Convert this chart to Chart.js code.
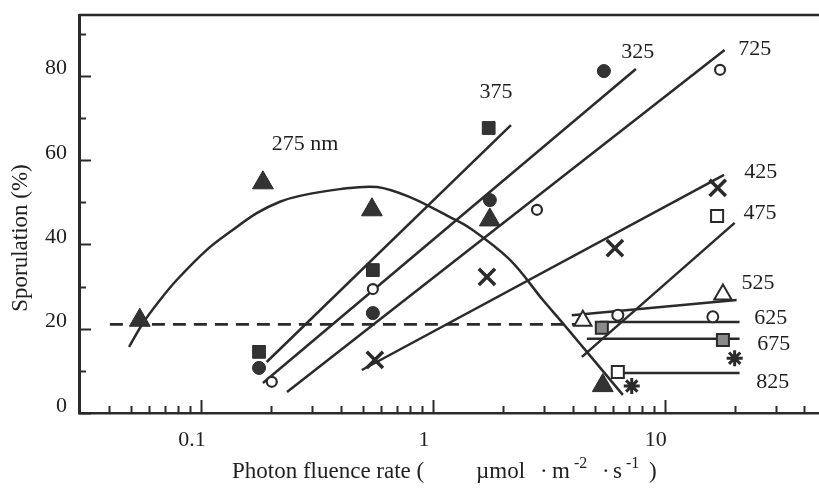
<!DOCTYPE html>
<html>
<head>
<meta charset="utf-8">
<title>Sporulation vs photon fluence rate</title>
<script src="https://cdn.jsdelivr.net/npm/chart.js@4/dist/chart.umd.min.js"></script>
<style>
  html, body { margin: 0; padding: 0; background: #fff; }
  #wrap { width: 819px; height: 494px; }
</style>
</head>
<body>
<div id="wrap"><canvas id="fig" width="819" height="494"></canvas></div>
<script>
(function(){
  const SERIF = "'Liberation Serif', 'Times New Roman', serif";
  const INK = '#2a2a2a';

  // fluence rate (umol m-2 s-1), sporulation (%)
  const curve275 = [[0.049,15.7],[0.0562,21.3],[0.0666,26.8],[0.0788,31.6],[0.106,38.7],[0.137,43.4],
    [0.174,47.4],[0.219,50.1],[0.267,51.5],[0.397,53.1],[0.574,53.6],[0.796,51.2],[1.18,46.5],
    [1.44,43.9],[2.15,36.3],[2.98,26.8],[3.53,22.1],[4.3,16.5],[5.4,10.0],[6.59,4.3]];

  const pts275 = [[0.0545,22.0],[0.185,54.6],[0.546,48.2],[1.76,45.8],[5.4,6.5]];
  const pts325 = [[0.178,10.7],[0.551,23.7],[1.76,50.5],[5.46,81.1]];
  const pts375 = [[0.178,14.5],[0.551,33.9],[1.74,67.6]];
  const pts425 = [[0.562,12.6],[1.71,32.3],[6.09,39.1],[16.9,53.4]];
  const pts475 = [[6.27,9.7],[16.8,46.7]];
  const pts525 = [[4.43,21.9],[17.8,28.1]];
  const pts625 = [[6.27,23.2],[16.1,22.8]];
  const pts675 = [[5.35,20.2],[17.8,17.3]];
  const pts725 = [[0.202,7.4],[0.551,29.4],[2.81,48.2],[17.3,81.4]];
  const pts825 = [[7.2,6.4],[20.0,13.0]];

  // regression lines (end points)
  const line325 = [[0.185,7.1],[7.5,81.6]];
  const line375 = [[0.192,12.1],[2.17,68.3]];
  const line425 = [[0.494,10.2],[18.0,56.5]];
  const line475 = [[4.39,13.3],[20.0,45.1]];
  const line525 = [[3.97,23.2],[20.4,26.8]];
  const line625 = [[5.25,21.6],[21.0,21.6]];
  const line675 = [[4.61,17.6],[21.0,17.6]];
  const line725 = [[0.235,5.0],[18.1,86.1]];
  const line825 = [[5.97,9.5],[21.0,9.5]];
  const darkLevel = [[0.0405,21],[4.1,21]];

  const xTicks = [0.1, 1, 10];
  const yTicks = [0, 20, 40, 60, 80];
  const yMinor = [10, 30, 50, 70, 90];

  const labelText = ['275 nm','375','325','725','425','475','525','625','675','825'];
  const labelX = [0.202,1.87,7.65,24.4,25.9,25.7,25.2,28.6,29.5,29.2];
  const labelY = [63.8,76.2,85.6,86.4,57.2,47.4,30.8,22.5,16.4,7.4];

  const xy = a => a.map(([x,y]) => ({x, y}));

  function fitLine(pts, extra){
    return Object.assign({ data: xy(pts), showLine: true, pointRadius: 0, borderColor: INK,
      borderWidth: 2.5, fill: false, order: 1 }, extra || {});
  }
  function marks(pts, style, r, bg, bw){
    return { data: xy(pts), showLine: false, pointStyle: style, pointRadius: r, pointHoverRadius: r,
      backgroundColor: bg, borderColor: INK, borderWidth: bw, order: 0 };
  }

  const datasets = [
    fitLine(darkLevel, { borderDash: [13, 8], borderWidth: 2.8, order: 2 }),
    fitLine(curve275, { tension: 0.35 }),
    fitLine(line325), fitLine(line375), fitLine(line425), fitLine(line475), fitLine(line525),
    fitLine(line625), fitLine(line675), fitLine(line725), fitLine(line825),
    marks(pts275, 'triangle', 12, '#333', 1),
    marks(pts325, 'circle', 6.5, '#333', 1),
    marks(pts375, 'rect', 9, '#333', 1),
    marks(pts425, 'crossRot', 11.5, INK, 3.5),
    marks(pts475, 'rect', 8.5, '#fff', 2),
    marks(pts525, 'triangle', 10, '#fff', 2),
    marks(pts625, 'circle', 5.5, '#fff', 2),
    marks(pts675, 'rect', 8.5, '#8a8a8a', 2),
    marks(pts725, 'circle', 5, '#fff', 2.2),
    marks(pts825, 'star', 8, INK, 3)
  ];

  // inward tick marks, top frame, curve labels, axis titles
  const figureExtras = {
    id: 'figureExtras',
    afterDraw(chart){
      const { ctx, chartArea: a, scales: { x, y } } = chart;
      ctx.save();
      ctx.strokeStyle = INK;
      ctx.lineWidth = 2.5;
      ctx.beginPath(); ctx.moveTo(a.left, a.top); ctx.lineTo(a.right, a.top); ctx.stroke();

      ctx.lineWidth = 2;
      yTicks.concat(yMinor).forEach(v => {
        const py = Math.round(y.getPixelForValue(v)) + 0.5;
        const len = yTicks.includes(v) ? 12 : 7;
        ctx.beginPath(); ctx.moveTo(a.left, py); ctx.lineTo(a.left + len, py); ctx.stroke();
      });
      [0.01, 0.1, 1, 10].forEach(d => {
        for (let k = 1; k <= 9; k++) {
          const v = k * d;
          if (v <= x.min * 1.05 || v >= x.max) continue;
          const px = Math.round(x.getPixelForValue(v)) + 0.5;
          const len = k === 1 ? 13 : 7;
          ctx.beginPath(); ctx.moveTo(px, a.bottom); ctx.lineTo(px, a.bottom - len); ctx.stroke();
        }
      });

      ctx.fillStyle = '#1e1e1e';
      ctx.font = '22px ' + SERIF;
      ctx.textBaseline = 'middle';
      labelText.forEach((t, i) => {
        ctx.textAlign = i === 0 ? 'left' : 'center';
        ctx.fillText(t, x.getPixelForValue(labelX[i]), y.getPixelForValue(labelY[i]));
      });

      // x title with superscripts
      ctx.textBaseline = 'alphabetic';
      ctx.textAlign = 'left';
      const base = 478;
      const parts = [
        ['Photon fluence rate (', 232, 0, 23],
        ['\u00b5mol', 476, 0, 23],
        ['\u00b7', 540, 0, 23],
        ['m', 552, 0, 23],
        ['-2', 574, -10, 16],
        ['\u00b7', 602, 0, 23],
        ['s', 613, 0, 23],
        ['-1', 626, -10, 16],
        [')', 649, 0, 23]
      ];
      parts.forEach(([t, px, dy, sz]) => {
        ctx.font = sz + 'px ' + SERIF;
        ctx.fillText(t, px, base + dy);
      });

      // y title
      ctx.save();
      ctx.translate(21, 238);
      ctx.rotate(-Math.PI / 2);
      ctx.font = '23px ' + SERIF;
      ctx.textAlign = 'center';
      ctx.textBaseline = 'middle';
      ctx.fillText('Sporulation (%)', 0, 0);
      ctx.restore();
      ctx.restore();
    }
  };

  new Chart(document.getElementById('fig').getContext('2d'), {
    type: 'scatter',
    data: { datasets },
    options: {
      responsive: false,
      animation: false,
      devicePixelRatio: 1,
      events: [],
      layout: { autoPadding: false, padding: { top: 15, left: 0, right: 0, bottom: 0 } },
      plugins: { legend: { display: false }, tooltip: { enabled: false } },
      scales: {
        x: {
          type: 'logarithmic', min: 0.0298, max: 46.2,
          grid: { display: false, drawTicks: true, tickLength: 14 },
          border: { display: true, color: INK, width: 2.5 },
          ticks: { font: { family: SERIF, size: 22 }, color: '#1e1e1e', padding: 0, labelOffset: -9,
            maxRotation: 0, autoSkip: false, callback: v => String(v) },
          afterBuildTicks: s => { s.ticks = xTicks.map(v => ({ value: v })); },
          afterFit: s => { s.height = 81; s.paddingLeft = 0; s.paddingRight = 0; }
        },
        y: {
          min: 0, max: 94.4,
          grid: { display: false, drawTicks: true, tickLength: 12 },
          border: { display: true, color: INK, width: 3 },
          ticks: { font: { family: SERIF, size: 22 }, color: '#1e1e1e', padding: 0, labelOffset: -7,
            callback: v => String(v) },
          afterBuildTicks: s => { s.ticks = yTicks.map(v => ({ value: v })); },
          afterFit: s => { s.width = 79; s.paddingTop = 0; s.paddingBottom = 0; }
        }
      }
    },
    plugins: [figureExtras]
  });
})();
</script>
</body>
</html>
